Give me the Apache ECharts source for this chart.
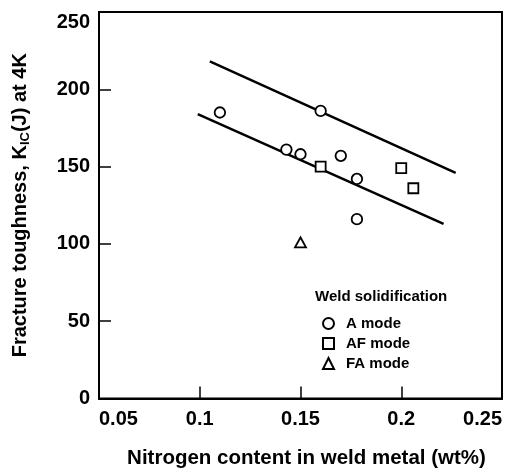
<!DOCTYPE html>
<html>
<head>
<meta charset="utf-8">
<script src="https://cdn.jsdelivr.net/npm/echarts@6/dist/echarts.min.js"></script>
<style>
html,body{margin:0;padding:0;background:#fff;}
#chart{width:513px;height:474px;}
</style>
</head>
<body>
<div id="chart"></div>
<script>
// Data
var xTicks = [0.05, 0.1, 0.15, 0.2, 0.25];
var yTicks = [0, 50, 100, 150, 200, 250];

var aModeX = [0.11, 0.143, 0.15, 0.16, 0.17, 0.178, 0.178];
var aModeY = [185, 161, 158, 186, 157, 142, 116];

var afModeX = [0.16, 0.2, 0.206];
var afModeY = [150, 149, 136];

var faModeX = [0.15];
var faModeY = [101];

var upperLineX = [0.105, 0.227];
var upperLineY = [218, 146];
var lowerLineX = [0.099, 0.221];
var lowerLineY = [184, 113];

var seriesNames = ['A mode', 'AF mode', 'FA mode'];
var legendTitle = 'Weld solidification';
var xName = 'Nitrogen content in weld metal (wt%)';

function zip(xs, ys) { return xs.map(function (x, i) { return [x, ys[i]]; }); }

var FONT = "'Liberation Sans', Arial, Helvetica, sans-serif";
var chart = echarts.init(document.getElementById('chart'), null, {renderer: 'canvas'});

var markerStyle = {color: '#fff', borderColor: '#000', borderWidth: 1.8, opacity: 1};

chart.setOption({
  animation: false,
  backgroundColor: '#fff',
  textStyle: {fontFamily: FONT, color: '#000'},
  title: {
    text: legendTitle,
    left: 315, top: 289, padding: 0,
    textStyle: {fontFamily: FONT, fontSize: 15, fontWeight: 'bold', color: '#000', lineHeight: 16}
  },
  legend: {
    data: seriesNames,
    orient: 'vertical',
    left: 322, top: 316, padding: 0,
    itemWidth: 11, itemHeight: 11, itemGap: 5,
    selectedMode: false,
    itemStyle: {opacity: 1},
    textStyle: {fontFamily: FONT, fontSize: 15, fontWeight: 'bold', color: '#000', lineHeight: 15, padding: [0, 0, 0, 7]}
  },
  grid: {
    left: 99, right: 11, top: 12, bottom: 73,
    show: true, borderColor: '#000', borderWidth: 2, backgroundColor: 'transparent'
  },
  xAxis: {
    type: 'value',
    min: xTicks[0], max: xTicks[xTicks.length - 1], interval: xTicks[1] - xTicks[0],
    name: xName,
    nameLocation: 'middle', nameGap: 50,
    nameTextStyle: {fontFamily: FONT, fontSize: 20.5, fontWeight: 'bold', color: '#000', lineHeight: 20, padding: [0, 0, 0, 12]},
    axisLine: {show: true, lineStyle: {color: '#000', width: 2}},
    axisTick: {show: true, inside: true, length: 12, lineStyle: {color: '#000', width: 1.5}},
    axisLabel: {
      fontFamily: FONT, fontSize: 20, fontWeight: 'bold', color: '#000', margin: 11, lineHeight: 20,
      alignMinLabel: 'left', alignMaxLabel: 'right',
      formatter: function (v) { return String(parseFloat(v.toFixed(3))); }
    },
    splitLine: {show: false}
  },
  yAxis: {
    type: 'value',
    min: yTicks[0], max: yTicks[yTicks.length - 1], interval: yTicks[1] - yTicks[0],
    name: '{a|Fracture toughness, K}{s|IC}{a|(J) at 4K}',
    nameLocation: 'middle', nameGap: 67,
    nameTextStyle: {
      fontFamily: FONT, fontSize: 20, fontWeight: 'bold', color: '#000',
      rich: {
        a: {fontFamily: FONT, fontSize: 20, fontWeight: 'bold', color: '#000', lineHeight: 24, verticalAlign: 'middle'},
        s: {fontFamily: FONT, fontSize: 13, fontWeight: 'bold', color: '#000', lineHeight: 13, verticalAlign: 'bottom'}
      }
    },
    axisLine: {show: true, lineStyle: {color: '#000', width: 2}},
    axisTick: {show: true, inside: true, length: 12, lineStyle: {color: '#000', width: 1.5}},
    axisLabel: {
      fontFamily: FONT, fontSize: 20, fontWeight: 'bold', color: '#000', margin: 9,
      verticalAlignMaxLabel: 'top'
    },
    splitLine: {show: false}
  },
  series: [
    {
      name: 'upper', type: 'line', data: zip(upperLineX, upperLineY),
      symbol: 'none', lineStyle: {color: '#000', width: 2.5}, z: 1, silent: true
    },
    {
      name: 'lower', type: 'line', data: zip(lowerLineX, lowerLineY),
      symbol: 'none', lineStyle: {color: '#000', width: 2.5}, z: 1, silent: true
    },
    {
      name: seriesNames[0], type: 'scatter', data: zip(aModeX, aModeY),
      symbol: 'circle', symbolSize: 10.5, itemStyle: markerStyle, z: 3
    },
    {
      name: seriesNames[1], type: 'scatter', data: zip(afModeX, afModeY),
      symbol: 'rect', symbolSize: 10, itemStyle: markerStyle, z: 3
    },
    {
      name: seriesNames[2], type: 'scatter', data: zip(faModeX, faModeY),
      symbol: 'triangle', symbolSize: [11, 10], itemStyle: markerStyle, z: 3
    }
  ]
});
</script>
</body>
</html>
